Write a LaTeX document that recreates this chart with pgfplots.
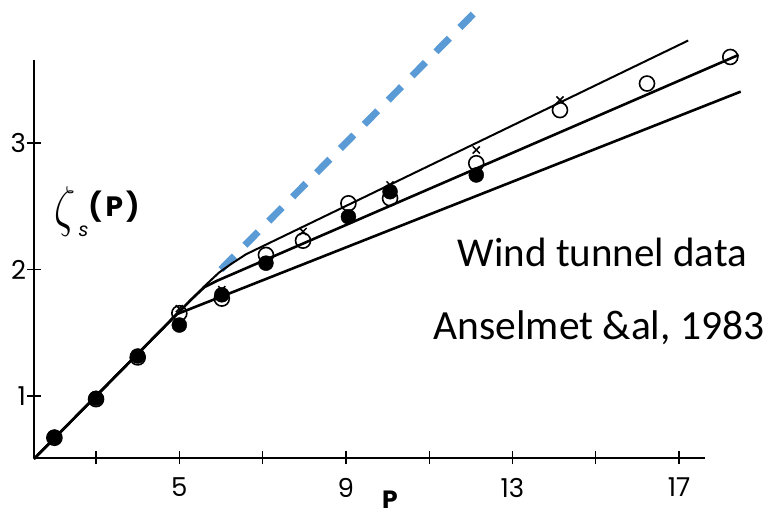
\documentclass[border=0pt]{standalone}
\usepackage{fix-cm}
\usepackage{pgfplots}
\pgfplotsset{compat=1.18}
\usepackage{fontspec}
\setmainfont{Carlito}
\newfontfamily\tickfont{Poppins}
\definecolor{k41blue}{HTML}{5B9BD5}
\begin{document}
\begin{tikzpicture}
\begin{axis}[
  scale only axis, width=671.3pt, height=398pt,
  at={(0pt,0pt)}, anchor=south west,
  xmin=1.51, xmax=17.63, ymin=0.51, ymax=3.656,
  axis x line*=bottom, axis y line*=left,
  axis line style={line width=2.4pt},
  clip=false,
  xtick={3,5,...,17}, xticklabels={,5,,9,,13,,17},
  ytick={1,2,3}, yticklabels={1,2,3},
  tick align=center, major tick length=13pt,
  tick style={line width=1.2pt, black},
  ticklabel style={font=\tickfont\fontsize{26}{26}\selectfont},
  xticklabel style={yshift=-10pt},
  yticklabel style={xshift=2pt},
]
% K41 line p/3
\addplot[k41blue, line width=7pt, dash pattern=on 19pt off 15pt] coordinates {(6.0,2.0) (12.2,4.067)};
% model lines
\addplot[black, line width=2pt] coordinates {(1.51,0.503) (5.6,1.867) (5.95,1.975) (6.25,2.045) (6.6,2.12) (17.22,3.81)};
\addplot[black, line width=2.6pt] coordinates {(1.51,0.503) (5.3,1.767) (5.6,1.86) (5.9,1.91) (18.43,3.696)};
\addplot[black, line width=2.6pt] coordinates {(1.51,0.503) (4.94,1.647) (18.48,3.406)};
% data
\addplot[only marks, mark=*, mark size=7.5pt, black] coordinates {
(2,0.675) (3,0.982) (4,1.316) (5,1.561) (6.02,1.80) (7.08,2.05) (9.06,2.417) (10.06,2.615) (12.13,2.747)};
\addplot[only marks, mark=o, mark size=7.5pt, black, line width=1.6pt] coordinates {
(2,0.67) (3,0.975) (4,1.305) (5,1.654) (6.02,1.77) (7.08,2.115) (7.97,2.228) (9.06,2.523) (10.06,2.563) (12.13,2.84) (14.14,3.26) (16.23,3.47) (18.23,3.68)};
\addplot[only marks, mark=x, mark size=5pt, black, line width=1.5pt] coordinates {
(2,0.69) (3,0.99) (4,1.33) (5,1.69) (6.02,1.84) (7.97,2.30) (10.06,2.668) (12.13,2.945) (14.14,3.34)};
\end{axis}
\node[anchor=base, font=\fontsize{41}{41}\selectfont] at (568.5pt,191pt) {Wind tunnel data};
\node[anchor=base, font=\fontsize{41.5}{41.5}\selectfont] at (565pt,118pt) {Anselmet \&al, 1983};
\node[inner sep=0pt, font=\tickfont\bfseries\fontsize{25}{25}\selectfont] at (356pt,-42pt) {P};
\node[inner sep=0pt] at (31pt,246pt) {\scalebox{0.75}[1]{\fontsize{56}{56}\selectfont$\zeta$}};
\node[inner sep=0pt, font=\tickfont\itshape\fontsize{19}{19}\selectfont] at (49.5pt,227pt) {s};
\node[inner sep=0pt, font=\tickfont\bfseries\fontsize{28}{28}\selectfont] at (80pt,251.5pt) {(\hspace{4pt}P\hspace{3pt})};
\pgfresetboundingbox
\path[use as bounding box] (-34pt,-58pt) rectangle (745pt,458pt);
\end{tikzpicture}
\end{document}
